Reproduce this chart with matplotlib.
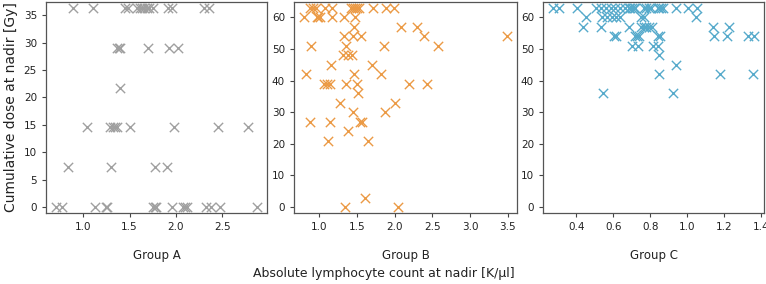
import matplotlib
matplotlib.use("Agg")
import matplotlib.pyplot as plt

# Group A data
a_x = [0.89, 1.10, 1.45, 1.48, 1.585, 1.61, 1.635, 1.66, 1.685, 1.71, 1.75, 1.915, 1.96, 2.31, 2.36,
       1.36, 1.39, 1.40, 1.70, 1.93, 2.02,
       1.40,
       1.036, 1.29, 1.32, 1.34, 1.37, 1.50, 1.98, 2.46, 2.78,
       0.83, 1.30, 1.78, 1.91,
       0.706, 0.767, 1.126, 1.244, 1.262, 1.754, 1.77, 1.79, 1.96, 2.08, 2.10, 2.12, 2.33, 2.38, 2.48, 2.877]
a_y = [36.3] * 15 + [29.04] * 6 + [21.78] * 1 + [14.52] * 9 + [7.26] * 4 + [0] * 16

# Group B data
b_x = [0.876, 0.92, 0.956, 1.075, 1.164, 1.416, 1.442, 1.473, 1.504, 1.531, 1.708, 1.885, 1.996,
       0.80, 0.965, 0.987, 1.009, 1.164, 1.33, 1.478,
       1.465, 2.08, 2.29,
       1.327, 1.442, 1.553, 2.39, 3.487,
       0.89, 1.35, 1.86, 2.57,
       1.32, 1.385, 1.43,
       1.15, 1.70,
       0.823, 1.46, 1.82,
       1.066, 1.097, 1.14, 1.354, 1.504, 2.195, 2.43,
       1.518,
       1.28, 2.01,
       1.45, 1.876,
       0.88, 1.137, 1.54, 1.562,
       1.376,
       1.12, 1.65,
       1.606,
       1.34, 2.05]
b_y = ([63] * 13 + [60] * 7 + [57] * 3 + [54] * 5 + [51] * 4 + [48] * 3 + [45] * 2 + [42] * 3
       + [39] * 7 + [36] * 1 + [33] * 2 + [30] * 2 + [27] * 4 + [24] * 1 + [21] * 2 + [3] * 1 + [0] * 2)

# Group C data
c_x = [0.274, 0.305, 0.404, 0.508, 0.535, 0.56, 0.587, 0.611, 0.638, 0.665, 0.683, 0.692, 0.701, 0.71, 0.719,
       0.764, 0.778, 0.791, 0.805, 0.841, 0.85, 0.859, 0.868, 0.94, 1.004, 1.052,
       0.452, 0.539, 0.566, 0.593, 0.616, 0.638, 0.751, 0.764, 1.049,
       0.436, 0.535, 0.683, 0.751, 0.764, 0.777, 0.791, 0.809, 1.139, 1.227,
       0.605, 0.614, 0.719, 0.728, 0.737, 0.845, 0.854, 1.146, 1.214, 1.328, 1.362,
       0.701, 0.733, 0.814, 0.841,
       0.85,
       0.94,
       0.85, 1.178, 1.355,
       0.542, 0.921]
c_y = ([63] * 26 + [60] * 9 + [57] * 10 + [54] * 11 + [51] * 4 + [48] * 1 + [45] * 1 + [42] * 3 + [36] * 2)

groups = ["Group A", "Group B", "Group C"]
colors = ["#a0a0a0", "#eb9a45", "#56aacb"]
xticks = [[1.0, 1.5, 2.0, 2.5], [1.0, 1.5, 2.0, 2.5, 3.0, 3.5], [0.4, 0.6, 0.8, 1.0, 1.2, 1.4]]
yticks = [[0, 5, 10, 15, 20, 25, 30, 35], [0, 10, 20, 30, 40, 50, 60], [0, 10, 20, 30, 40, 50, 60]]

fig = plt.figure(figsize=(7.66, 2.84), dpi=100)
lefts = [46 / 766, 294 / 766, 543 / 766]
widths = [221 / 766, 223 / 766, 221 / 766]
data = [(a_x, a_y), (b_x, b_y), (c_x, c_y)]
axes = []
for i in range(3):
    kw = {}
    if i == 2:
        kw["sharey"] = axes[1]
    ax = fig.add_axes([lefts[i], 71 / 284, widths[i], 211 / 284], **kw)
    axes.append(ax)
    xs, ys = data[i]
    ax.scatter(xs, ys, marker="x", s=45, linewidths=1.0, color=colors[i])
    ax.margins(x=0.05, y=0.03)
    ax.set_xticks(xticks[i])
    ax.set_yticks(yticks[i])
    ax.tick_params(labelsize=7.5, length=3, width=0.8, color="#444444", labelcolor="#222222")
    ax.tick_params(axis="y", labelleft=True)
    for s in ax.spines.values():
        s.set_color("#555555")
        s.set_linewidth(0.9)
    ax.set_xlabel(groups[i], fontsize=8.5, labelpad=12, color="#222222")
    if i == 0:
        ax.set_ylabel("Cumulative dose at nadir [Gy]", fontsize=10, labelpad=4, color="#222222")

lo = min(b_y) - 0.03 * (max(b_y) - min(b_y))
hi = max(b_y) + 0.03 * (max(b_y) - min(b_y))
axes[1].set_ylim(lo, hi)

fig.text(384 / 766, 1 - 273 / 284, "Absolute lymphocyte count at nadir [K/µl]",
         ha="center", va="center", fontsize=9, color="#222222")
fig.savefig("out.png", dpi=100)
